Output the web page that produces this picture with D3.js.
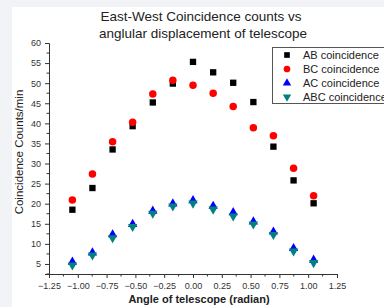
<!DOCTYPE html>
<html>
<head>
<meta charset="utf-8">
<script src="https://cdn.jsdelivr.net/npm/d3@7"></script>
<style>
  html, body { margin: 0; padding: 0; background: #f2f3f6; }
  svg { display: block; font-family: Arial, "Liberation Sans", sans-serif; }
</style>
</head>
<body>
<svg id="chart" width="384" height="307"></svg>
<script>
// --- Data ---
const angles = [-1.047, -0.873, -0.698, -0.524, -0.349, -0.175, 0, 0.175, 0.349, 0.524, 0.698, 0.873, 1.047];
const abCounts  = [18.5, 23.9, 33.5, 39.3, 45.2, 49.9, 55.3, 52.7, 50.1, 45.3, 34.2, 25.8, 20.1];
const bcCounts  = [20.9, 27.4, 35.4, 40.3, 47.3, 50.7, 49.5, 47.5, 44.2, 38.9, 36.9, 28.8, 22.0];
const acCounts  = [5.5, 7.8, 12.3, 14.9, 18.2, 20.0, 20.8, 19.4, 17.8, 15.5, 13.0, 8.9, 6.0];
const abcCounts = [4.7, 7.2, 11.5, 14.3, 17.6, 19.4, 20.1, 18.6, 16.9, 14.9, 12.3, 8.2, 5.3];
const seriesNames = ["AB coincidence", "BC coincidence", "AC coincidence", "ABC coincidence"];
const xTicks = [-1.25, -1.00, -0.75, -0.50, -0.25, 0.00, 0.25, 0.50, 0.75, 1.00, 1.25];
const yTicks = [5, 10, 15, 20, 25, 30, 35, 40, 45, 50, 55, 60];

const svg = d3.select("#chart");

// white panel
svg.append("rect").attr("x", 12).attr("y", 7).attr("width", 384).attr("height", 307).attr("fill", "#ffffff");

// --- Scales ---
const x = d3.scaleLinear().domain([-1.25, 1.25]).range([49, 337]);
const y = d3.scaleLinear().domain([2.5, 60]).range([274, 43]);

// --- Axes ---
const xAxis = d3.axisBottom(x).tickValues(xTicks).tickFormat(d3.format(".2f")).tickSizeOuter(0).tickSize(4);
const yAxis = d3.axisLeft(y).tickValues(yTicks).tickFormat(d3.format("d")).tickSizeOuter(0).tickSize(4);

const gx = svg.append("g").attr("transform", "translate(0,274)").call(xAxis);
const gy = svg.append("g").attr("transform", "translate(49,0)").call(yAxis);

// minor ticks
gx.selectAll(".minor").data(d3.range(-1.125, 1.25, 0.25)).enter().append("line")
  .attr("x1", d => x(d)).attr("x2", d => x(d)).attr("y1", 0).attr("y2", 2.5).attr("stroke", "#333");
gy.selectAll(".minor").data(d3.range(7.5, 60, 5)).enter().append("line")
  .attr("y1", d => y(d)).attr("y2", d => y(d)).attr("x1", 0).attr("x2", -2.5).attr("stroke", "#333");
gy.append("line").attr("y1", y(2.5)).attr("y2", y(2.5)).attr("x1", 0).attr("x2", -2.5).attr("stroke", "#333");

[gx, gy].forEach(g => {
  g.select(".domain").attr("stroke", "#333");
  g.selectAll(".tick line").attr("stroke", "#333");
  g.selectAll(".tick text").attr("fill", "#333").style("font-size", "9px").style("font-family", "Arial, 'Liberation Sans', sans-serif");
});
gx.selectAll(".tick text").attr("dy", "0.9em");
gy.selectAll(".tick text").attr("dx", "-1px");

// --- Title and labels ---
svg.append("text").attr("x", 201).attr("y", 21).attr("text-anchor", "middle")
  .attr("fill", "#222").style("font-size", "13.5px").text("East-West Coincidence counts vs");
svg.append("text").attr("x", 203).attr("y", 38).attr("text-anchor", "middle")
  .attr("fill", "#222").style("font-size", "13.5px").text("anglular displacement of telescope");

svg.append("text").attr("x", 199).attr("y", 303).attr("text-anchor", "middle")
  .attr("fill", "#222").style("font-size", "11px").style("font-weight", "bold")
  .text("Angle of telescope (radian)");

svg.append("text").attr("transform", "translate(23,152) rotate(-90)").attr("text-anchor", "middle")
  .attr("fill", "#222").style("font-size", "11.5px").text("Coincidence Counts/min");

// --- Markers ---
const symbols = [
  { values: abCounts,  shape: d3.symbolSquare,   size: 40, color: "#000000", rot: 0 },
  { values: bcCounts,  shape: d3.symbolCircle,   size: 44, color: "#ff0000", rot: 0 },
  { values: acCounts,  shape: d3.symbolTriangle, size: 38, color: "#0000ff", rot: 0 },
  { values: abcCounts, shape: d3.symbolTriangle, size: 38, color: "#008080", rot: 180 }
];

symbols.forEach(s => {
  svg.append("g").selectAll("path")
    .data(angles.map((a, i) => [a, s.values[i]]))
    .enter().append("path")
    .attr("d", d3.symbol().type(s.shape).size(s.size))
    .attr("fill", s.color)
    .attr("transform", d => `translate(${x(d[0])},${y(d[1])}) rotate(${s.rot})`);
});

// --- Legend ---
const legend = svg.append("g");
legend.append("rect").attr("x", 272.5).attr("y", 47.5).attr("width", 130).attr("height", 56)
  .attr("fill", "#fff").attr("stroke", "#555").attr("stroke-width", 1);
symbols.forEach((s, i) => {
  const ly = 55 + i * 14;
  legend.append("path")
    .attr("d", d3.symbol().type(s.shape).size(s.size * 0.8))
    .attr("fill", s.color)
    .attr("transform", `translate(287,${ly}) rotate(${s.rot})`);
  legend.append("text").attr("x", 303).attr("y", ly + 4)
    .attr("fill", "#222").style("font-size", "11px").text(seriesNames[i]);
});
</script>
</body>
</html>
